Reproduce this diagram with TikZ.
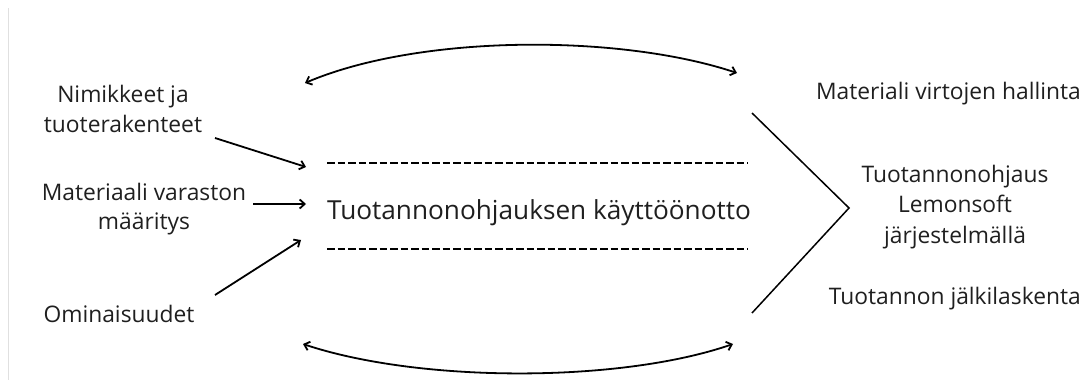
\documentclass[tikz,border=0pt]{standalone}
\usepackage{fontspec}
\setmainfont{Open Sans}
\usetikzlibrary{arrows.meta}
\begin{document}
\begin{tikzpicture}[x=1pt,y=-1pt,
  lbl/.style={inner sep=0pt,align=center,font=\fontsize{22.8}{29.5}\selectfont,text=black!88},
  big/.style={inner sep=0pt,font=\fontsize{26.2}{30}\selectfont,text=black!88},
  arr/.style={line width=1.8pt,-{Straight Barb[length=5pt,width=9pt]}},
  darr/.style={line width=1.8pt,{Straight Barb[length=5pt,width=9pt]}-{Straight Barb[length=5pt,width=9pt]}},
  dashline/.style={line width=1.6pt,dash pattern=on 7.5pt off 3pt},
  chev/.style={line width=1.5pt}]
\useasboundingbox (0,0) rectangle (1091,387);
\draw[black!12,line width=1pt] (8,8) -- (8,380);
% left labels
\node[lbl] (n1) at (123,109) {Nimikkeet ja\\tuoterakenteet};
\node[lbl] (n2) at (144,209) {Materiaali varaston\\määritys};
\node[lbl] (n3) at (119,314) {Ominaisuudet};
% center
\node[big] (c) at (539,213) {Tuotannonohjauksen käyttöönotto};
% right labels
\node[lbl,anchor=east] (r1) at (1081,94) {Materiali virtojen hallinta};
\node[lbl,font=\fontsize{22.8}{30.5}\selectfont] (r2) at (955,207) {Tuotannonohjaus\\Lemonsoft\\järjestelmällä};
\node[lbl,anchor=east] (r3) at (1081,299) {Tuotannon jälkilaskenta};
% coordinates
\coordinate (a1s) at (215,138); \coordinate (a1e) at (306,167);
\coordinate (a2s) at (253,204); \coordinate (a2e) at (306,204);
\coordinate (a3s) at (215,295); \coordinate (a3e) at (301,240);
\coordinate (tl) at (305,83); \coordinate (tr) at (737,73);
\coordinate (bl) at (303,344); \coordinate (br) at (733,344);
\coordinate (d1l) at (327,163); \coordinate (d1r) at (748,163);
\coordinate (d2l) at (327,249); \coordinate (d2r) at (748,249);
\coordinate (ct) at (752,113); \coordinate (cm) at (849,208); \coordinate (cb) at (752,313);
\draw[arr] (a1s) -- (a1e);
\draw[arr] (a2s) -- (a2e);
\draw[arr] (a3s) -- (a3e);
\draw[darr] (tl) .. controls (420,34) and (620,34) .. (tr);
\draw[darr] (bl) .. controls (420,383) and (620,383) .. (br);
\draw[dashline] (d1l) -- (d1r);
\draw[dashline] (d2l) -- (d2r);
\draw[chev] (ct) -- (cm) -- (cb);
\end{tikzpicture}
\end{document}
